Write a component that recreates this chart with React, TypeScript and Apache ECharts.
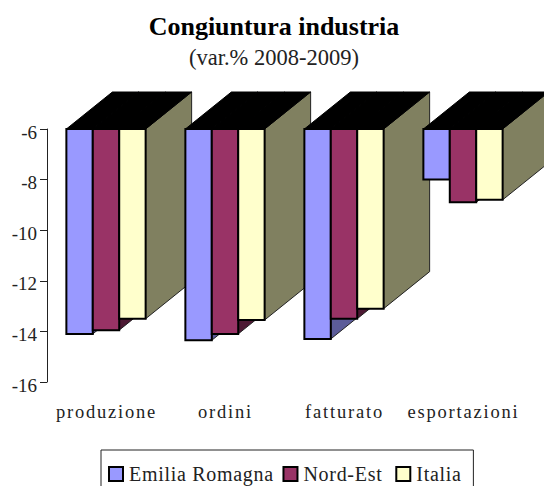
import React, { useEffect, useRef } from "react";
import * as echarts from "echarts";

const categories = ["produzione", "ordini", "fatturato", "esportazioni"];
const emiliaRomagna = [-14.1, -14.35, -14.3, -8.0];
const nordEst = [-13.95, -14.1, -13.5, -8.9];
const italia = [-13.5, -13.55, -13.1, -8.8];
const seriesNames = ["Emilia Romagna", "Nord-Est", "Italia"];
const seriesValues = [emiliaRomagna, nordEst, italia];
const frontColors = ["#9999ff", "#993366", "#ffffcc"];
const sideColors = ["#5c5c99", "#4d1933", "#808060"];
const FONT = "Liberation Serif";
const DX = 46;
const DY = -37;
const spacingCss = `
  .cz svg text[style*="18.5px"] { letter-spacing: 1.8px; }
  .cz svg text[style*="20px"] { letter-spacing: 0.7px; }
`;

export default function App() {
  const ref = useRef<HTMLDivElement>(null);
  useEffect(() => {
    document.body.style.margin = "0";
    const chart = echarts.init(ref.current!, undefined, { renderer: "svg" });
    chart.setOption({
      animation: false,
      backgroundColor: "#ffffff",
      title: {
        text: "Congiuntura industria",
        subtext: "(var.% 2008-2009)",
        left: 269,
        top: 8,
        textAlign: "center",
        itemGap: 7,
        textStyle: { fontFamily: FONT, fontSize: 26, fontWeight: "bold", color: "#000" },
        subtextStyle: { fontFamily: FONT, fontSize: 22.5, color: "#222" },
      },
      legend: {
        data: seriesNames,
        left: 101,
        top: 450,
        padding: [14, 16, 30, 7],
        borderColor: "#222",
        borderWidth: 1,
        itemWidth: 14,
        itemHeight: 14,
        itemGap: 18.5,
        icon: "rect",
        textStyle: { fontFamily: FONT, fontSize: 20, color: "#222", padding: [1, 0, 0, 1] },
      },
      grid: { left: 47, top: 129, width: 476, height: 253, containLabel: false },
      xAxis: {
        type: "category",
        data: categories,
        position: "bottom",
        axisLine: { show: false },
        axisTick: { show: false },
        axisLabel: { fontFamily: FONT, fontSize: 18.5, color: "#222", margin: 20, interval: 0 },
      },
      yAxis: {
        type: "value",
        min: -16,
        max: -6,
        interval: 2,
        axisLine: { show: true, lineStyle: { color: "#222", width: 1 } },
        axisTick: { show: true, length: 7, lineStyle: { color: "#222", width: 1 } },
        axisLabel: {
          margin: 10,
          formatter: "{t|{value}}",
          rich: { t: { fontFamily: FONT, fontSize: 19, color: "#222", padding: [6, 0, 0, 0] } },
        },
        splitLine: { show: false },
      },
      series: seriesNames.map((name, si) => ({
        type: "custom",
        name,
        clip: false,
        itemStyle: { color: frontColors[si], borderColor: "#000", borderWidth: 2 },
        encode: { x: 0, y: 1 },
        data: seriesValues[si].map((v, i) => [i, v]),
        renderItem: (_p: any, api: any) => {
          const cat = api.value(0);
          const val = api.value(1);
          const [cx, yEnd] = api.coord([cat, val]);
          const [, yTop] = api.coord([cat, -6]);
          const band = api.size([1, 0])[0];
          const bw = band * 0.222;
          const x0 = cx - 1.5 * bw + si * bw - 0.5;
          const x1 = x0 + bw;
          const z2 = cat * 10 + si;
          return {
            type: "group",
            children: [
              {
                type: "polygon",
                z2,
                shape: { points: [[x1, yTop], [x1 + DX, yTop + DY], [x1 + DX, yEnd + DY], [x1, yEnd]] },
                style: { fill: sideColors[si], stroke: "#222", lineWidth: 1 },
              },
              {
                type: "polygon",
                z2,
                shape: { points: [[x0, yTop], [x0 + DX, yTop + DY], [x1 + DX, yTop + DY], [x1, yTop]] },
                style: { fill: "#000", stroke: "#000", lineWidth: 1 },
              },
              {
                type: "rect",
                z2,
                shape: { x: x0, y: yTop, width: bw, height: yEnd - yTop },
                style: { fill: frontColors[si], stroke: "#000", lineWidth: 2 },
              },
            ],
          };
        },
      })),
    });
    return () => chart.dispose();
  }, []);
  return (
    <div className="cz" style={{ width: 544, height: 486, overflow: "hidden" }}>
      <style>{spacingCss}</style>
      <div ref={ref} style={{ width: 544, height: 486 }} />
    </div>
  );
}
